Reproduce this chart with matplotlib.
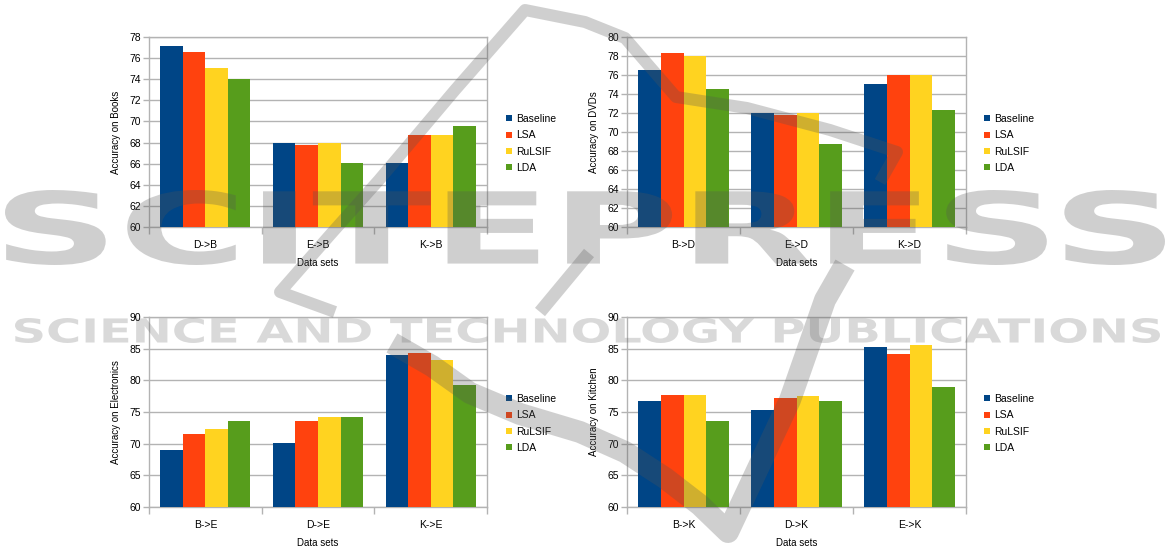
import matplotlib
matplotlib.use("Agg")
import matplotlib.pyplot as plt
from matplotlib.lines import Line2D
from matplotlib.textpath import TextPath
from matplotlib.font_manager import FontProperties
from matplotlib.patches import PathPatch
from matplotlib.transforms import Affine2D
import numpy as np

plt.rcParams['font.family'] = ['Liberation Sans', 'DejaVu Sans']

methods = ["Baseline", "LSA", "RuLSIF", "LDA"]
colors = ["#004586", "#ff420e", "#ffd320", "#579d1c"]

books_cats = ["D->B", "E->B", "K->B"]
books_baseline = [77.1, 68.0, 66.05]
books_lsa = [76.55, 67.8, 68.75]
books_rulsif = [75.05, 68.0, 68.75]
books_lda = [74.0, 66.05, 69.6]

dvd_cats = ["B->D", "E->D", "K->D"]
dvd_baseline = [76.55, 72.05, 75.1]
dvd_lsa = [78.3, 71.8, 76.05]
dvd_rulsif = [78.05, 72.05, 76.05]
dvd_lda = [74.55, 68.75, 72.3]

elec_cats = ["B->E", "D->E", "K->E"]
elec_baseline = [69.05, 70.1, 84.05]
elec_lsa = [71.55, 73.6, 84.35]
elec_rulsif = [72.35, 74.25, 83.15]
elec_lda = [73.6, 74.15, 79.25]

kit_cats = ["B->K", "D->K", "E->K"]
kit_baseline = [76.7, 75.25, 85.25]
kit_lsa = [77.75, 77.2, 84.2]
kit_rulsif = [77.75, 77.45, 85.55]
kit_lda = [73.55, 76.7, 79.0]

panels = [
    (books_cats, [books_baseline, books_lsa, books_rulsif, books_lda], "Accuracy on Books", (60, 78), 2),
    (dvd_cats, [dvd_baseline, dvd_lsa, dvd_rulsif, dvd_lda], "Accuracy on DVDs", (60, 80), 2),
    (elec_cats, [elec_baseline, elec_lsa, elec_rulsif, elec_lda], "Accuracy on Electronics", (60, 90), 5),
    (kit_cats, [kit_baseline, kit_lsa, kit_rulsif, kit_lda], "Accuracy on Kitchen", (60, 90), 5),
]

W, H = 1176, 550
fig = plt.figure(figsize=(W / 100, H / 100), dpi=100)

# axes boxes in pixels: left, top, right, bottom
boxes = [(149, 37, 487, 227), (627, 37, 966, 227), (149, 317, 487, 507), (627, 317, 966, 507)]
legend_pos = [(506, 143.5), (984, 143.5), (506, 423.5), (984, 423.5)]

grid_c = "#b3b3b3"
for (cats, series, ylabel, ylim, step), (l, t, r, b), (lx, ly) in zip(panels, boxes, legend_pos):
    ax = fig.add_axes([l / W, 1 - b / H, (r - l) / W, (b - t) / H])
    x = np.arange(len(cats))
    w = 0.2
    for i, (vals, c) in enumerate(zip(series, colors)):
        ax.bar(x + (i - 1.5) * w, np.array(vals) - ylim[0], width=w, bottom=ylim[0],
               color=c, linewidth=0, zorder=3, label=methods[i])
    ax.set_xlim(-0.5, len(cats) - 0.5)
    ax.set_ylim(*ylim)
    ax.set_yticks(np.arange(ylim[0], ylim[1] + 0.1, step))
    ax.yaxis.grid(True, color=grid_c, linewidth=1, zorder=0)
    ax.set_axisbelow(True)
    ax.set_xticks(x)
    ax.set_xticklabels(cats)
    ax.set_xticks(np.arange(-0.5, len(cats)), minor=True)
    ax.tick_params(axis='x', which='major', length=0, labelsize=7.5, pad=9, colors='#000000')
    ax.tick_params(axis='x', which='minor', length=5, color=grid_c, width=1)
    ax.tick_params(axis='y', length=4, color=grid_c, width=1, labelsize=7.5, pad=2)
    for s in ax.spines.values():
        s.set_color(grid_c)
        s.set_linewidth(1)
    ax.set_xlabel("Data sets", fontsize=7, labelpad=6)
    ax.set_ylabel(ylabel, fontsize=7, labelpad=6)
    handles = [Line2D([], [], marker='s', linestyle='none', markersize=5,
                      markerfacecolor=c, markeredgewidth=0) for c in colors]
    fig.legend(handles, methods, loc='center left', bbox_to_anchor=(lx / W, 1 - ly / H),
               frameon=False, fontsize=7.5, handlelength=0.6, handletextpad=0.4,
               labelspacing=0.6, borderpad=0, borderaxespad=0)

# ---- watermark (publisher logo) ----
wm_color = '#555555'

def wm_text(s, box, alpha=0.3):
    x0, y0, x1, y1 = box  # pixel coords, top-left origin
    fp = FontProperties(family='DejaVu Sans', weight='bold')
    tp = TextPath((0, 0), s, size=100, prop=fp)
    ext = tp.get_extents()
    sx = (x1 - x0) / ext.width
    sy = (y1 - y0) / ext.height
    tr = Affine2D().translate(-ext.x0, -ext.y0).scale(sx, sy).translate(x0, H - y1)
    path = tr.transform_path(tp)
    patch = PathPatch(path, facecolor=wm_color, edgecolor='none', alpha=alpha,
                      transform=None, zorder=10)
    fig.patches.append(patch)
    patch.set_figure(fig)

def wm_stroke(pts, width_px, alpha=0.28):
    xs = [p[0] for p in pts]
    ys = [H - p[1] for p in pts]
    ln = Line2D(xs, ys, transform=None, color=wm_color, alpha=alpha,
                linewidth=width_px * 0.72, solid_capstyle='butt', solid_joinstyle='round',
                zorder=10)
    fig.lines.append(ln)
    ln.set_figure(fig)

wm_text("SCITEPRESS", (5, 190, 1165, 265), alpha=0.28)
wm_text("SCIENCE AND TECHNOLOGY PUBLICATIONS", (15, 318, 1160, 343), alpha=0.22)

# roof + swoosh
wm_stroke([(335, 312), (280, 292), (330, 235), (379, 180), (455, 90), (525, 10),
           (585, 22), (625, 38), (676, 97), (747, 108), (830, 130), (897, 152), (880, 182)], 12)
# short diagonal
wm_stroke([(589, 253), (540, 312)], 13)
# V mark
wm_stroke([(392, 343), (432, 366), (470, 393), (520, 414), (580, 432), (625, 452),
           (665, 478), (700, 505), (728, 532), (790, 400), (825, 300), (845, 265)], 22)

fig.savefig("out.png", dpi=100)
